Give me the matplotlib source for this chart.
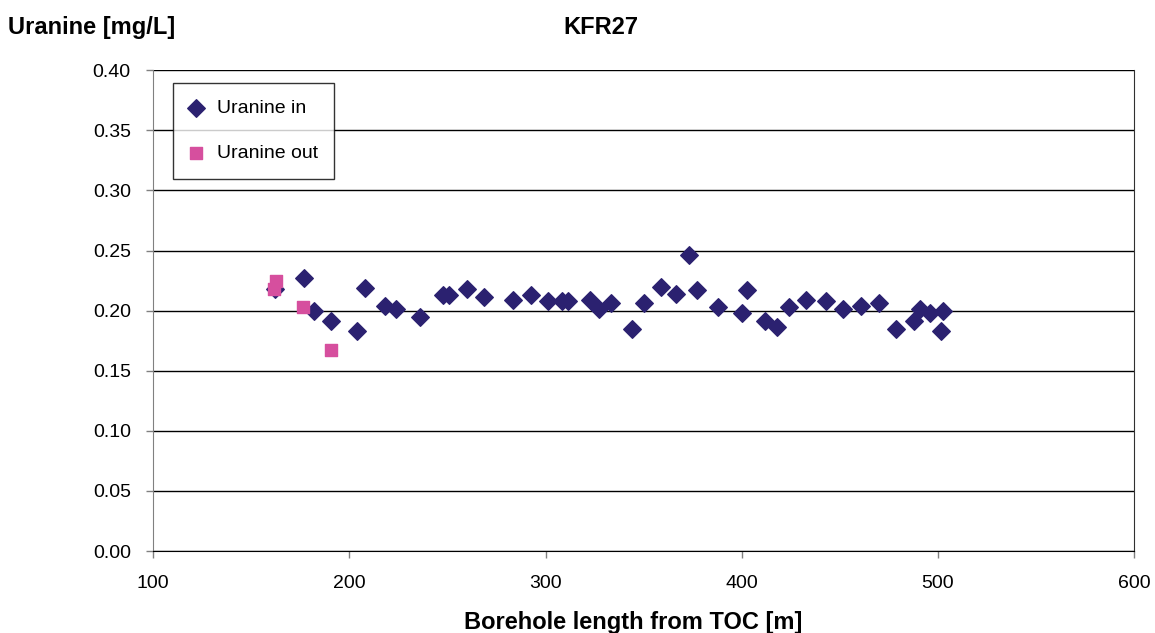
import matplotlib
matplotlib.use("Agg")
import matplotlib.pyplot as plt

plt.rcParams['font.family'] = ['Liberation Sans', 'DejaVu Sans']

# Uranine in (diamonds)
x_in = [162.3, 177.1, 182.2, 190.8, 203.9, 208.0, 218.0, 223.8, 235.9, 247.7,
        250.8, 259.8, 268.8, 283.5, 292.6, 301.4, 308.4, 311.6, 322.5, 327.4,
        333.5, 344.2, 350.3, 359.1, 366.3, 373.2, 377.1, 388.1, 400.0, 402.9,
        411.9, 418.0, 424.0, 432.8, 442.8, 451.8, 460.8, 469.7, 478.7, 487.8,
        490.7, 495.7, 502.6, 501.6]
y_in = [0.218, 0.227, 0.200, 0.191, 0.183, 0.219, 0.204, 0.201, 0.195, 0.213,
        0.213, 0.218, 0.211, 0.209, 0.213, 0.208, 0.208, 0.208, 0.209, 0.201,
        0.206, 0.185, 0.206, 0.220, 0.214, 0.246, 0.217, 0.203, 0.198, 0.217,
        0.191, 0.186, 0.203, 0.209, 0.208, 0.201, 0.204, 0.206, 0.185, 0.191,
        0.201, 0.198, 0.200, 0.183]

# Uranine out (squares)
x_out = [161.6, 162.5, 176.6, 190.5]
y_out = [0.218, 0.225, 0.203, 0.167]

fig = plt.figure(figsize=(11.55, 6.33), dpi=100)
ax = fig.add_axes([0.1325, 0.1295, 0.8495, 0.7595])

ax.scatter(x_in, y_in, marker="D", s=80, color="#2B2170", label="Uranine in", zorder=3)
ax.scatter(x_out, y_out, marker="s", s=75, color="#D64F9E", label="Uranine out", zorder=3)

ax.set_xlim(100, 600)
ax.set_ylim(0, 0.40)
ax.set_xticks([100, 200, 300, 400, 500, 600])
ax.set_yticks([0.00, 0.05, 0.10, 0.15, 0.20, 0.25, 0.30, 0.35, 0.40])
ax.set_yticklabels([f"{v:.2f}" for v in ax.get_yticks()])
ax.yaxis.grid(True, color="black", linewidth=1.0)
ax.set_axisbelow(True)
ax.tick_params(axis="both", labelsize=14, direction="out", length=5, width=1,
               color="#808080", labelcolor="black")
ax.tick_params(axis="y", pad=11)
ax.tick_params(axis="x", pad=12)
ax.spines["left"].set_color("#808080")
ax.spines["right"].set_color("#303030")
ax.spines["top"].set_visible(False)
ax.spines["bottom"].set_color("black")

fig.text(0.007, 0.957, "Uranine [mg/L]", fontsize=17, fontweight="bold", va="center")
fig.text(0.52, 0.957, "KFR27", fontsize=17, fontweight="bold", va="center", ha="center")
fig.text(0.548, 0.016, "Borehole length from TOC [m]", fontsize=17, fontweight="bold",
         va="center", ha="center")

leg = ax.legend(loc="upper left", bbox_to_anchor=(0.0204, 0.973), borderaxespad=0,
                fontsize=14, frameon=True, fancybox=False, edgecolor="black",
                labelspacing=1.4, borderpad=0.85, handletextpad=0.7, handlelength=0.7)
leg.get_frame().set_linewidth(1.0)

fig.savefig("out.png", dpi=100)
